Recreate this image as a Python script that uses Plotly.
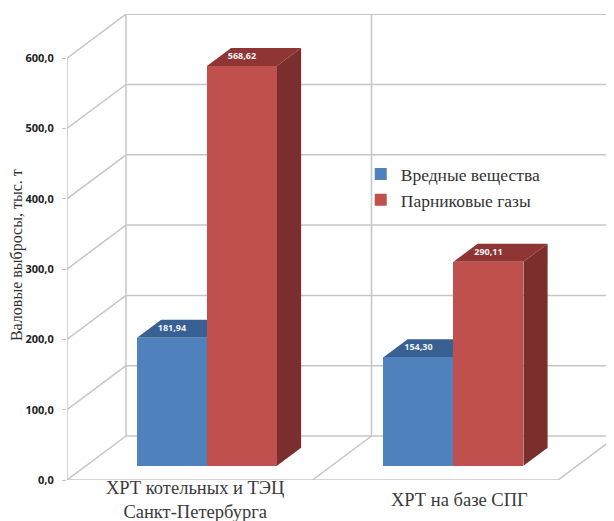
import plotly.graph_objects as go

categories = ["ХРТ котельных и ТЭЦ<br>Санкт-Петербурга", "ХРТ на базе СПГ"]
category_centres = [0.492, 1.496]
label_centres = [0.52, 1.6]
harmful = [181.94, 154.30]
greenhouse = [568.62, 290.11]
y_ticks = [0, 100, 200, 300, 400, 500, 600]
y_tick_labels = ["0,0", "100,0", "200,0", "300,0", "400,0", "500,0", "600,0"]

# oblique projection of the chart box, in axis units
DX, DY = 0.2403, 62.6
Z0, Z1 = 0.325, 0.735
BAR_W = 0.285
GRID = "#c6c6c6"


def p(x, y, z):
    return x + z * DX, y + z * DY


def poly(points, color):
    path = "M" + "L".join(f"{a:.4f},{b:.4f}" for a, b in points) + "Z"
    return dict(type="path", path=path, fillcolor=color, line=dict(width=0),
                layer="below", xref="x", yref="y")


def seg(a, b):
    return dict(type="line", x0=a[0], y0=a[1], x1=b[0], y1=b[1], layer="below",
                xref="x", yref="y", line=dict(color=GRID, width=1.5))


shapes = []
for v in y_ticks:
    shapes.append(seg(p(0, v, 0), p(0, v, 1)))
    shapes.append(seg(p(0, v, 1), p(2.1, v, 1)))
shapes.append(seg(p(0, 0, 0), p(0, 600, 0)))
for c in (0, 1, 2):
    shapes.append(seg(p(c, 0, 1), p(c, 600, 1)))
shapes.append(seg(p(0, 0, 0), p(2, 0, 0)))
for c in (1, 2):
    shapes.append(seg(p(c, 0, 0), p(c, 0, 1)))


def box_faces(x0, x1, v, top, side):
    return [
        poly([p(x1, 0, Z0), p(x1, 0, Z1), p(x1, v, Z1), p(x1, v, Z0)], side),
        poly([p(x0, v, Z0), p(x1, v, Z0), p(x1, v, Z1), p(x0, v, Z1)], top),
    ]


label_x, label_y, label_text = [], [], []
for i in range(2):
    c = category_centres[i]
    for x0, x1, v, top, side in (
        (c - BAR_W, c, harmful[i], "#386092", "#2f5480"),
        (c, c + BAR_W, greenhouse[i], "#8f3634", "#7a2f2d"),
    ):
        shapes += box_faces(x0, x1, v, top, side)
        lx, ly = p((x0 + x1) / 2, v, Z0)
        label_x.append(lx)
        label_y.append(ly + 13)
        label_text.append(f"{v:.2f}".replace(".", ","))

offset = Z0 * DX
fig = go.Figure()
fig.add_bar(
    x=[c - BAR_W / 2 + offset for c in category_centres], y=harmful,
    base=[Z0 * DY] * 2, width=BAR_W, name="Вредные вещества",
    marker=dict(color="#4f81bd", line=dict(width=0)),
)
fig.add_bar(
    x=[c + BAR_W / 2 + offset for c in category_centres], y=greenhouse,
    base=[Z0 * DY] * 2, width=BAR_W, name="Парниковые газы",
    marker=dict(color="#c0504d", line=dict(width=0)),
)
fig.add_scatter(
    x=label_x, y=label_y, text=label_text, mode="text", showlegend=False,
    textposition="middle center", cliponaxis=False,
    textfont=dict(family="Open Sans", size=9, color="#eef2f7", weight="bold"),
)

serif = "Liberation Serif"
annotations = [
    dict(text=categories[i], x=label_centres[i], y=0, xref="x", yref="y", yshift=-20,
         showarrow=False, yanchor="middle", xanchor="center",
         font=dict(family=serif, size=18.5, color="#3a3a3a"))
    for i in range(2)
] + [
    dict(text="Валовые выбросы, тыс. т", x=0, y=320, xref="paper", yref="y",
         xshift=-50, showarrow=False, textangle=-90,
         xanchor="center", yanchor="middle",
         font=dict(family=serif, size=16, color="#333333")),
]

fig.update_layout(
    width=606, height=513, autosize=False,
    margin=dict(l=59, r=0, t=6, b=41),
    paper_bgcolor="white", plot_bgcolor="white",
    barmode="overlay", bargap=0, shapes=shapes, annotations=annotations,
    hovermode=False,
    legend=dict(x=0.537, y=0.695, xanchor="left", yanchor="top",
                bgcolor="rgba(0,0,0,0)", traceorder="normal",
                font=dict(family=serif, size=17.5, color="#333333")),
    xaxis=dict(range=[0, 2.228], visible=False, fixedrange=True),
    yaxis=dict(range=[0, 662.9], tickvals=y_ticks, ticktext=y_tick_labels,
               showgrid=False, zeroline=False, showline=False,
               ticks="outside", ticklen=4, tickcolor=GRID, ticklabelstandoff=6,
               fixedrange=True,
               tickfont=dict(family="Open Sans", size=11, color="#222222", weight="bold")),
)
fig.write_html("out.html", config=dict(displayModeBar=False))
